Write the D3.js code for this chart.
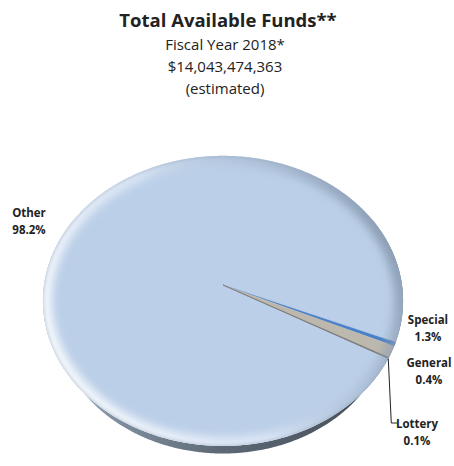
<!DOCTYPE html>
<html>
<head>
<meta charset="utf-8">
<script src="https://cdn.jsdelivr.net/npm/d3@7"></script>
<style>
  html, body { margin: 0; padding: 0; background: #fff; }
  svg { display: block; }
  text { font-family: "Open Sans", Lato, sans-serif; fill: #222; }
</style>
</head>
<body>
<svg id="chart" width="454" height="466"></svg>
<script>
// Fund sources, fiscal year 2018 (share of total, %), in clockwise drawing order
const categories = ["Other", "General", "Special", "Lottery"];
const shares = [98.2, 0.4, 1.3, 0.1];
const sliceColors = ["#BBCFE8", "#4A80C8", "#BDB8AD", "#6E6E6E"];

const titleLines = ["Total Available Funds**"];
const subtitleLines = ["Fiscal Year 2018*", "$14,043,474,363", "(estimated)"];

// Label text per category
const labelText = {
  Other: ["Other", "98.2%"],
  Special: ["Special", "1.3%"],
  General: ["General", "0.4%"],
  Lottery: ["Lottery", "0.1%"]
};

const svg = d3.select("#chart");

// ---- perspective projection of a flat disc (unit radius) ----
const cx = 223, cy = 285;      // screen point of the disc centre
const elev = 53.2 * Math.PI / 180;
const sinE = Math.sin(elev), cosE = Math.cos(elev);
const camD = 5.47, focal = 979;
const thickness = 0.17;        // depth of the side wall
const baseRadius = 0.955;      // lower edge is tucked in under the rounded rim

// pie angle a (clockwise from 12 o'clock), radius r, depth h below the top face
function project(a, r, h) {
  const X = r * Math.sin(a);
  const Z = -r * Math.cos(a);
  const yc = Z * sinE + h * cosE;
  const zc = camD - Z * cosE + h * sinE;
  return [cx + focal * X / zc, cy + focal * yc / zc];
}

const line = d3.line();
const deg = Math.PI / 180;

// Pie layout: the "Other" slice ends at 112.5° so the small slices sit on the right
const pie = d3.pie().sort(null).value(d => d.value)
  .startAngle(119 * deg - 2 * Math.PI).endAngle(119 * deg);
const arcs = pie(categories.map((c, i) => ({ name: c, value: shares[i], color: sliceColors[i] })));

function arcPoints(a0, a1, r, h) {
  const n = Math.max(2, Math.ceil(Math.abs(a1 - a0) / (0.5 * deg)));
  return d3.range(n + 1).map(i => project(a0 + (a1 - a0) * i / n, r, h));
}

const defs = svg.append("defs");

// side wall shading: lighter at the left, dark slate to the right
const sideGrad = defs.append("linearGradient").attr("id", "sideGrad")
  .attr("gradientUnits", "userSpaceOnUse").attr("x1", 45).attr("y1", 0).attr("x2", 400).attr("y2", 0);
sideGrad.append("stop").attr("offset", 0).attr("stop-color", "#A4B3C5");
sideGrad.append("stop").attr("offset", 0.22).attr("stop-color", "#7D8C9C");
sideGrad.append("stop").attr("offset", 0.5).attr("stop-color", "#5C6874");
sideGrad.append("stop").attr("offset", 0.8).attr("stop-color", "#4D5762");
sideGrad.append("stop").attr("offset", 1).attr("stop-color", "#3E464F");

// rim bevel shading on the top face
const bevelGrad = defs.append("linearGradient").attr("id", "bevelGrad")
  .attr("gradientUnits", "userSpaceOnUse").attr("x1", 50).attr("y1", 400).attr("x2", 400).attr("y2", 220);
bevelGrad.append("stop").attr("offset", 0).attr("stop-color", "#FFFFFF").attr("stop-opacity", 0.95);
bevelGrad.append("stop").attr("offset", 0.45).attr("stop-color", "#F2F7FF").attr("stop-opacity", 0.55);
bevelGrad.append("stop").attr("offset", 0.7).attr("stop-color", "#9EB0C6").attr("stop-opacity", 0.35);
bevelGrad.append("stop").attr("offset", 1).attr("stop-color", "#6F8196").attr("stop-opacity", 0.75);

defs.append("filter").attr("id", "soft").attr("x", "-20%").attr("y", "-20%").attr("width", "140%").attr("height", "140%")
  .append("feGaussianBlur").attr("stdDeviation", 4);
defs.append("filter").attr("id", "softer").attr("x", "-20%").attr("y", "-20%").attr("width", "140%").attr("height", "140%")
  .append("feGaussianBlur").attr("stdDeviation", 1.5);

const topRim = arcPoints(0, 2 * Math.PI, 1, 0);
defs.append("clipPath").attr("id", "faceClip").append("path").attr("d", line(topRim) + "Z");

// ---- side wall (front half of the cylinder) ----
const sideTop = arcPoints(Math.PI / 2 - 0.5, 3 * Math.PI / 2 + 0.5, 1, 0);
const sideBottom = arcPoints(3 * Math.PI / 2 + 0.5, Math.PI / 2 - 0.5, baseRadius, thickness);
svg.append("path").attr("d", line(sideTop.concat(sideBottom)) + "Z").attr("fill", "url(#sideGrad)");

// ---- top face slices ----
const g = svg.append("g");
g.selectAll("path.slice").data(arcs).join("path")
  .attr("class", "slice")
  .attr("d", d => line([[cx, cy]].concat(arcPoints(d.startAngle, d.endAngle, 1, 0))) + "Z")
  .attr("fill", d => d.data.color)
  .attr("stroke", d => d.data.name === "Other" ? "none" : d.data.color)
  .attr("stroke-width", 0.3);

// thin darker edge along the lower side of the small slices
const lastArc = arcs[arcs.length - 1];
svg.append("path")
  .attr("d", line([[cx, cy], project(lastArc.endAngle, 1, 0)]))
  .attr("stroke", "#7C7C7C").attr("stroke-width", 0.8).attr("fill", "none");

// rim bevel
const bevel = svg.append("g").attr("clip-path", "url(#faceClip)");
bevel.append("path").attr("d", line(topRim) + "Z")
  .attr("fill", "none").attr("stroke", "url(#bevelGrad)").attr("stroke-width", 18)
  .attr("filter", "url(#soft)");
bevel.append("path").attr("d", line(topRim) + "Z")
  .attr("fill", "none").attr("stroke", "#8FA2B8").attr("stroke-width", 2).attr("stroke-opacity", 0.55)
  .attr("filter", "url(#softer)");

// ---- titles ----
svg.append("text").attr("x", 228).attr("y", 27).attr("text-anchor", "middle")
  .attr("font-weight", "bold").attr("font-size", 18.5).text(titleLines[0]);
subtitleLines.forEach((t, i) => {
  svg.append("text").attr("x", 225).attr("y", 50 + i * 22).attr("text-anchor", "middle")
    .attr("font-size", 15).text(t);
});

// ---- data labels ----
const labelPos = {
  Other: [29, 217],
  Special: [428, 324],
  General: [429, 367],
  Lottery: [417, 428]
};
arcs.forEach(d => {
  const [lx, ly] = labelPos[d.data.name];
  const txt = svg.append("text").attr("text-anchor", "middle")
    .attr("font-weight", "bold").attr("font-size", 11.5);
  labelText[d.data.name].forEach((t, i) => {
    txt.append("tspan").attr("x", lx).attr("y", ly + i * 17).text(t);
  });
});

// leader line for the smallest slice
const lot = arcs.find(d => d.data.name === "Lottery");
const lotRim = project((lot.startAngle + lot.endAngle) / 2, 1, 0.01);
svg.append("path")
  .attr("d", line([lotRim, [lotRim[0] + 3, 423], [397, 423]]))
  .attr("fill", "none").attr("stroke", "#222").attr("stroke-width", 1);
</script>
</body>
</html>
